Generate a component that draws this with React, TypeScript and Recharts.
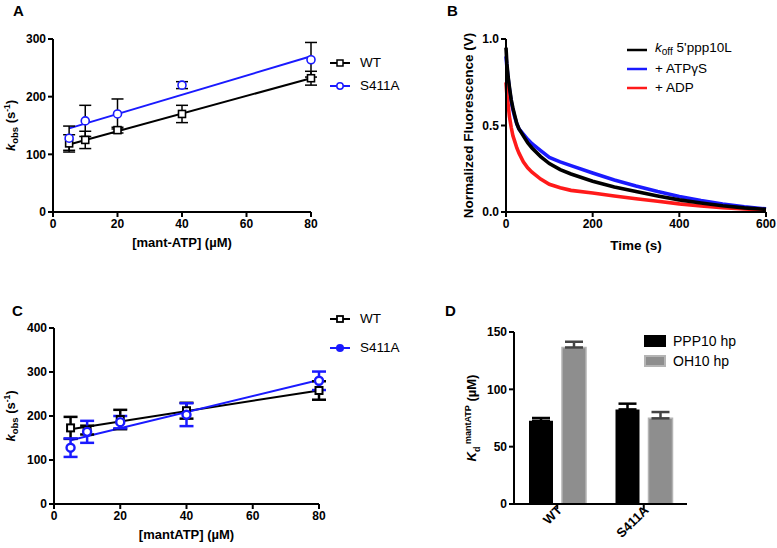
import React from 'react';
import { ComposedChart, BarChart, Bar, Line, Scatter, XAxis, YAxis, ErrorBar, Legend } from 'recharts';

const FONT = '"Liberation Sans", Arial, Helvetica, sans-serif';
const BLUE = '#1a1aff';
const RED = '#ff1a1a';
const GRAY = '#8e8e8e';

// ---------- Panel A ----------
const concA = [5, 10, 20, 40, 80];
const wtA = [119, 125, 142, 170, 232];
const wtAErr = [15, 15, 5, 15, 12];
const s411aA = [128, 158, 170, 220, 264];
const s411aAErr = [21, 27, 26, 6, 30];
const fitXA = [5, 80];
const wtAFit = [117, 232];
const s411aAFit = [145, 270];
const ticksAX = [0, 20, 40, 60, 80];
const ticksAY = [0, 100, 200, 300];

// ---------- Panel B ----------
const timeB = [0, 2, 5, 8, 12, 16, 20, 25, 30, 40, 50, 60, 80, 100, 125, 150, 200, 250, 300, 350, 400, 450, 500, 550, 600];
const koffB = [0.95, 0.86, 0.78, 0.72, 0.65, 0.6, 0.56, 0.51, 0.48, 0.44, 0.4, 0.37, 0.32, 0.28, 0.245, 0.22, 0.178, 0.145, 0.118, 0.093, 0.07, 0.052, 0.036, 0.024, 0.015];
const atpgsB = [0.9, 0.84, 0.77, 0.71, 0.64, 0.59, 0.55, 0.51, 0.48, 0.45, 0.42, 0.395, 0.355, 0.315, 0.29, 0.268, 0.225, 0.185, 0.15, 0.118, 0.09, 0.066, 0.046, 0.03, 0.018];
const adpB = [0.75, 0.68, 0.62, 0.55, 0.49, 0.44, 0.41, 0.37, 0.34, 0.29, 0.255, 0.23, 0.19, 0.16, 0.14, 0.125, 0.11, 0.093, 0.077, 0.062, 0.047, 0.035, 0.025, 0.018, 0.012];
const ticksBX = [0, 200, 400, 600];
const ticksBY = [0, 0.5, 1.0];

// ---------- Panel C ----------
const concC = [5, 10, 20, 40, 80];
const wtC = [173, 168, 192, 212, 258];
const wtCErr = [25, 10, 22, 18, 21];
const s411aC = [128, 164, 186, 203, 280];
const s411aCErr = [21, 25, 14, 26, 21];
const fitXC = [5, 80];
const wtCFit = [170, 258];
const s411aCFit = [145, 282];
const ticksCX = [0, 20, 40, 60, 80];
const ticksCY = [0, 100, 200, 300, 400];

// ---------- Panel D ----------
const groupsD = ['WT', 'S411A'];
const pppD = [72.5, 82.5];
const pppDErr = [2.5, 5];
const ohD = [136.5, 74.7];
const ohDErr = [5, 5.5];
const ticksDY = [0, 50, 100, 150];

const ptsA_wt = concA.map((x, i) => ({ x, y: wtA[i], err: wtAErr[i] }));
const ptsA_s = concA.map((x, i) => ({ x, y: s411aA[i], err: s411aAErr[i] }));
const fitA_wt = fitXA.map((x, i) => ({ x, y: wtAFit[i] }));
const fitA_s = fitXA.map((x, i) => ({ x, y: s411aAFit[i] }));

const curveB_koff = timeB.map((x, i) => ({ x, y: koffB[i] }));
const curveB_atp = timeB.map((x, i) => ({ x, y: atpgsB[i] }));
const curveB_adp = timeB.map((x, i) => ({ x, y: adpB[i] }));

const ptsC_wt = concC.map((x, i) => ({ x, y: wtC[i], err: wtCErr[i] }));
const ptsC_s = concC.map((x, i) => ({ x, y: s411aC[i], err: s411aCErr[i] }));
const fitC_wt = fitXC.map((x, i) => ({ x, y: wtCFit[i] }));
const fitC_s = fitXC.map((x, i) => ({ x, y: s411aCFit[i] }));

const barsD = groupsD.map((name, i) => ({
  name,
  ppp: pppD[i],
  pppErr: [0, pppDErr[i]],
  oh: ohD[i],
  ohErr: [0, ohDErr[i]],
}));

const tickStyle = { fill: '#000', fontSize: 12, fontWeight: 700, fontFamily: FONT };
const axisStroke = { stroke: '#000', strokeWidth: 2 };

const squareShape = (stroke: string, sw: number, size: number) => (props: any) => {
  const { cx, cy } = props;
  if (cx == null || cy == null) return <g />;
  return <rect x={cx - size / 2} y={cy - size / 2} width={size} height={size} fill="#fff" stroke={stroke} strokeWidth={sw} />;
};
const circleShape = (stroke: string, sw: number, r: number) => (props: any) => {
  const { cx, cy } = props;
  if (cx == null || cy == null) return <g />;
  return <circle cx={cx} cy={cy} r={r} fill="#fff" stroke={stroke} strokeWidth={sw} />;
};

const xTitle = (baseY: number, content: React.ReactNode, size = 13) => (props: any) => {
  const vb = props.viewBox || {};
  const cx = (vb.x || 0) + (vb.width || 0) / 2;
  return (
    <text x={cx} y={baseY} textAnchor="middle" fontFamily={FONT} fontWeight={700} fontSize={size} fill="#000">
      {content}
    </text>
  );
};
const yTitle = (baseX: number, content: React.ReactNode, size = 13) => (props: any) => {
  const vb = props.viewBox || {};
  const cy = (vb.y || 0) + (vb.height || 0) / 2;
  return (
    <text x={baseX} y={cy} transform={`rotate(-90 ${baseX} ${cy})`} textAnchor="middle" fontFamily={FONT} fontWeight={700} fontSize={size} fill="#000">
      {content}
    </text>
  );
};

const kobsTitle = (
  <>
    <tspan fontStyle="italic">k</tspan>
    <tspan dy={3.5} fontSize={9.5}>obs</tspan>
    <tspan dy={-3.5}> (s</tspan>
    <tspan dy={-5} fontSize={8.5}>-1</tspan>
    <tspan dy={5}>)</tspan>
  </>
);
const kdTitle = (
  <>
    <tspan fontStyle="italic">K</tspan>
    <tspan dy={3.5} fontSize={9}>d</tspan>
    <tspan dy={-9} fontSize={9}> mantATP</tspan>
    <tspan dy={5.5}> (µM)</tspan>
  </>
);

type LegendItem = { icon: React.ReactNode; label: React.ReactNode };
const legendContent = (items: LegendItem[], rowH: number, fontSize: number, gap: number, iconW = 22, iconH = 12) => () => (
  <div style={{ fontFamily: FONT, fontSize, color: '#000', lineHeight: 1 }}>
    {items.map((it, i) => (
      <div key={i} style={{ display: 'flex', alignItems: 'center', height: rowH, whiteSpace: 'nowrap' }}>
        <svg width={iconW} height={iconH} style={{ display: 'block' }}>{it.icon}</svg>
        <span style={{ marginLeft: gap }}>{it.label}</span>
      </div>
    ))}
  </div>
);

const lineIcon = (color: string, w = 2) => <line x1={0} y1={6} x2={20} y2={6} stroke={color} strokeWidth={w} />;

function PanelA() {
  const items: LegendItem[] = [
    { icon: <>{lineIcon('#000')}<rect x={7} y={3} width={6} height={6} fill="#fff" stroke="#000" strokeWidth={1.5} /></>, label: 'WT' },
    { icon: <>{lineIcon(BLUE)}<circle cx={10} cy={6} r={3.2} fill="#fff" stroke={BLUE} strokeWidth={1.5} /></>, label: 'S411A' },
  ];
  return (
    <ComposedChart width={390} height={260} margin={{ top: 39, right: 79, bottom: 18, left: 8 }}>
      <XAxis type="number" dataKey="x" domain={[0, 80]} ticks={ticksAX} height={30} tickSize={5} tickMargin={2}
        axisLine={axisStroke} tickLine={axisStroke} tick={tickStyle}
        label={xTitle(247, '[mant-ATP] (µM)')} />
      <YAxis type="number" dataKey="y" domain={[0, 300]} ticks={ticksAY} width={45} tickSize={5} tickMargin={2}
        axisLine={axisStroke} tickLine={axisStroke} tick={tickStyle}
        label={yTitle(14.5, kobsTitle)} />
      <Line data={fitA_wt} dataKey="y" stroke="#000" strokeWidth={2} dot={false} isAnimationActive={false} />
      <Line data={fitA_s} dataKey="y" stroke={BLUE} strokeWidth={2} dot={false} isAnimationActive={false} />
      <Scatter data={ptsA_wt} shape={squareShape('#000', 1.6, 7)} isAnimationActive={false}>
        <ErrorBar dataKey="err" direction="y" width={6} stroke="#000" strokeWidth={1.5} />
      </Scatter>
      <Scatter data={ptsA_s} shape={circleShape(BLUE, 1.6, 4)} isAnimationActive={false}>
        <ErrorBar dataKey="err" direction="y" width={6} stroke="#000" strokeWidth={1.5} />
      </Scatter>
      <Legend layout="vertical" align="center" verticalAlign="middle" wrapperStyle={{ left: 330, top: 51, width: 'auto' }}
        content={legendContent(items, 23, 13.5, 8)} />
    </ComposedChart>
  );
}

function PanelB() {
  const items: LegendItem[] = [
    { icon: lineIcon('#000', 2.5), label: <><i>k</i><span style={{ fontSize: '75%', verticalAlign: '-0.3em' }}>off</span> 5'ppp10L</> },
    { icon: lineIcon(BLUE, 2.5), label: '+ ATPγS' },
    { icon: lineIcon(RED, 2.5), label: '+ ADP' },
  ];
  return (
    <ComposedChart width={387} height={260} margin={{ top: 39, right: 11, bottom: 18, left: 71 }}>
      <XAxis type="number" dataKey="x" domain={[0, 600]} ticks={ticksBX} height={30} tickSize={5} tickMargin={2}
        axisLine={axisStroke} tickLine={axisStroke} tick={tickStyle}
        label={xTitle(250, 'Time (s)', 13.5)} />
      <YAxis type="number" dataKey="y" domain={[0, 1]} ticks={ticksBY} width={45} tickSize={5} tickMargin={2}
        axisLine={axisStroke} tickLine={axisStroke} tick={tickStyle} tickFormatter={(v: number) => v.toFixed(1)}
        label={yTitle(83, 'Normalized Fluorescence (V)', 13.5)} />
      <Line data={curveB_atp} dataKey="y" stroke={BLUE} strokeWidth={3.6} dot={false} isAnimationActive={false} />
      <Line data={curveB_adp} dataKey="y" stroke={RED} strokeWidth={3.6} dot={false} isAnimationActive={false} />
      <Line data={curveB_koff} dataKey="y" stroke="#000" strokeWidth={3.6} dot={false} isAnimationActive={false} />
      <Legend layout="vertical" align="center" verticalAlign="middle" wrapperStyle={{ left: 237, top: 40, width: 'auto' }}
        content={legendContent(items, 19, 13.5, 6)} />
    </ComposedChart>
  );
}

function PanelC() {
  const items: LegendItem[] = [
    { icon: <>{lineIcon('#000')}<rect x={7} y={3} width={6} height={6} fill="#fff" stroke="#000" strokeWidth={1.8} /></>, label: 'WT' },
    { icon: <>{lineIcon(BLUE)}<circle cx={10} cy={6} r={4} fill={BLUE} /></>, label: 'S411A' },
  ];
  return (
    <ComposedChart width={390} height={258} margin={{ top: 38, right: 71, bottom: 14, left: 9 }}>
      <XAxis type="number" dataKey="x" domain={[0, 80]} ticks={ticksCX} height={30} tickSize={5} tickMargin={2}
        axisLine={axisStroke} tickLine={axisStroke} tick={tickStyle}
        label={xTitle(249, '[mantATP] (µM)')} />
      <YAxis type="number" dataKey="y" domain={[0, 400]} ticks={ticksCY} width={45} tickSize={5} tickMargin={2}
        axisLine={axisStroke} tickLine={axisStroke} tick={tickStyle}
        label={yTitle(14.5, kobsTitle)} />
      <Line data={fitC_wt} dataKey="y" stroke="#000" strokeWidth={2} dot={false} isAnimationActive={false} />
      <Line data={fitC_s} dataKey="y" stroke={BLUE} strokeWidth={2} dot={false} isAnimationActive={false} />
      <Scatter data={ptsC_wt} shape={squareShape('#000', 2, 7)} isAnimationActive={false}>
        <ErrorBar dataKey="err" direction="y" width={7} stroke="#000" strokeWidth={2.5} />
      </Scatter>
      <Scatter data={ptsC_s} shape={circleShape(BLUE, 2.4, 4)} isAnimationActive={false}>
        <ErrorBar dataKey="err" direction="y" width={7} stroke={BLUE} strokeWidth={2.5} />
      </Scatter>
      <Legend layout="vertical" align="center" verticalAlign="middle" wrapperStyle={{ left: 330, top: 14, width: 'auto' }}
        content={legendContent(items, 29, 13.5, 8)} />
    </ComposedChart>
  );
}

const RotTick = (props: any) => {
  const { x, y, payload } = props;
  return (
    <g transform={`translate(${x},${y})`}>
      <text x={0} y={0} dx={4} dy={4} textAnchor="end" transform="rotate(-45)" fontFamily={FONT} fontWeight={700} fontSize={13} fill="#000">
        {payload.value}
      </text>
    </g>
  );
};

function PanelD() {
  const items: LegendItem[] = [
    { icon: <rect x={0} y={0} width={22} height={12} fill="#000" />, label: 'PPP10 hp' },
    { icon: <rect x={1} y={1} width={20} height={10} fill={GRAY} stroke="#b4b4b4" strokeWidth={2} />, label: 'OH10 hp' },
  ];
  return (
    <BarChart width={387} height={258} data={barsD} margin={{ top: 42, right: 90, bottom: 4, left: 79 }} barGap={9}>
      <XAxis dataKey="name" height={40} tickSize={5} tickMargin={2} axisLine={axisStroke} tickLine={axisStroke} tick={<RotTick />} interval={0} />
      <YAxis type="number" domain={[0, 150]} ticks={ticksDY} width={45} tickSize={5} tickMargin={2}
        axisLine={axisStroke} tickLine={axisStroke} tick={tickStyle}
        label={yTitle(86, kdTitle)} />
      <Bar dataKey="ppp" fill="#000" barSize={24} isAnimationActive={false}>
        <ErrorBar dataKey="pppErr" direction="y" width={9} stroke="#000" strokeWidth={2.5} />
      </Bar>
      <Bar dataKey="oh" fill={GRAY} stroke="#b4b4b4" strokeWidth={1.5} barSize={24} isAnimationActive={false}>
        <ErrorBar dataKey="ohErr" direction="y" width={9} stroke="#444" strokeWidth={2.5} />
      </Bar>
      <Legend layout="vertical" align="center" verticalAlign="middle" wrapperStyle={{ left: 254, top: 41, width: 'auto' }}
        content={legendContent(items, 20, 14, 7)} />
    </BarChart>
  );
}

const letterStyle = (left: number, top: number): React.CSSProperties => ({
  position: 'absolute', left, top, fontFamily: FONT, fontWeight: 700, fontSize: 15, lineHeight: 1, color: '#000',
});

export default function App() {
  return (
    <div style={{ position: 'absolute', left: 0, top: 0, width: 777, height: 548, background: '#fff', overflow: 'hidden' }}>
      <div style={{ position: 'absolute', left: 0, top: 0 }}><PanelA /></div>
      <div style={{ position: 'absolute', left: 390, top: 0 }}><PanelB /></div>
      <div style={{ position: 'absolute', left: 0, top: 290 }}><PanelC /></div>
      <div style={{ position: 'absolute', left: 390, top: 290 }}><PanelD /></div>
      <div style={letterStyle(13, 3)}>A</div>
      <div style={letterStyle(447, 3)}>B</div>
      <div style={letterStyle(12, 303)}>C</div>
      <div style={letterStyle(445, 303)}>D</div>
    </div>
  );
}
